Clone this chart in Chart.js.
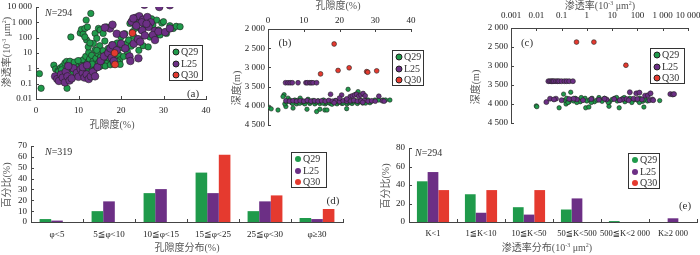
<!DOCTYPE html>
<html>
<head>
<meta charset="utf-8">
<script src="https://cdn.jsdelivr.net/npm/chart.js@4/dist/chart.umd.min.js"></script>
<style>
body { margin: 0; width: 700px; height: 255px; background: #fff; position: relative; overflow: hidden;
       font-family: "Liberation Serif", "Noto Sans CJK SC", serif; color: #333; }
canvas { position: absolute; }
.t { position: absolute; white-space: nowrap; font-size: 10px; line-height: 1; color: #555; transform: translate(-50%, -50%); }
.rot { transform: translate(-50%, -50%) rotate(-90deg); }
.n { position: absolute; white-space: nowrap; font-size: 10px; line-height: 1; color: #333; }
.pl { position: absolute; white-space: nowrap; font-size: 11px; line-height: 1; color: #333; transform: translate(-50%, -50%); }
sup { font-size: 6px; vertical-align: 4px; line-height: 0; }
.lg { position: absolute; border: 1px solid #333; background: #fff; font-size: 10px; line-height: 1; }
.lg span { position: absolute; white-space: nowrap; transform: translateY(-50%); }
.lg i { position: absolute; border-radius: 50%; transform: translate(-50%, -50%); box-sizing: border-box; }
</style>
</head>
<body>
<canvas id="ca" width="212" height="120" style="left:0;top:0"></canvas>
<canvas id="cb" width="197" height="131" style="left:222px;top:0"></canvas>
<canvas id="cc" width="235" height="130" style="left:465px;top:0"></canvas>
<canvas id="cd" width="350" height="120" style="left:0;top:135px"></canvas>
<canvas id="ce" width="325" height="120" style="left:375px;top:135px"></canvas>

<div class="t" style="left:112px;top:125px">孔隙度(%)</div>
<div class="t rot" style="left:7px;top:52px">渗透率(10<sup>-3</sup> μm<sup>2</sup>)</div>
<div class="n" style="left:45px;top:8px"><i>N</i>=294</div>
<div class="pl" style="left:193px;top:93px">(a)</div>

<div class="t" style="left:338px;top:6px">孔隙度(%)</div>
<div class="t rot" style="left:237px;top:88px">深度(m)</div>
<div class="pl" style="left:285px;top:42px">(b)</div>

<div class="t" style="left:600px;top:6px">渗透率(10<sup>-3</sup> μm<sup>2</sup>)</div>
<div class="t rot" style="left:476px;top:87px">深度(m)</div>
<div class="pl" style="left:527px;top:42px">(c)</div>

<div class="t" style="left:187px;top:248px">孔隙度分布(%)</div>
<div class="t rot" style="left:7px;top:185px">百分比(%)</div>
<div class="n" style="left:45px;top:147px"><i>N</i>=319</div>
<div class="pl" style="left:333px;top:200px">(d)</div>

<div class="t" style="left:547px;top:248px">渗透率分布(10<sup>-3</sup> μm<sup>2</sup>)</div>
<div class="t rot" style="left:386px;top:186px">百分比(%)</div>
<div class="n" style="left:415px;top:148px"><i>N</i>=294</div>
<div class="pl" style="left:685px;top:205px">(e)</div>

<script>
// ---- data ----
const wells = ['Q29', 'L25', 'Q30'];
const wellColors = ['#1f9a4b', '#6c2f85', '#e53a2f'];

// (a) porosity (%) vs permeability (10^-3 um2)
const q29PorPerm = [
  [0.8,0.45],[1.2,0.05],[7.3,0.05],[4.2,1.6],[4.6,0.9],[5.2,0.7],[5.8,1.1],[6.3,1.4],[6.8,2.2],[7.2,2.8],
  [7.6,1.8],[8.0,2.9],[7.9,1.2],[8.5,0.8],[8.8,1.6],[9.3,0.6],[9.6,1.0],[10.0,1.8],[10.2,3.0],[10.6,2.4],
  [10.8,0.5],[11.1,3.6],[11.4,1.5],[11.7,6],[11.9,0.9],[12.1,2.2],[12.4,11],[12.6,4],[12.8,1.3],[13.1,7],
  [13.4,2.8],[13.6,0.7],[13.9,16],[14.1,4.5],[14.3,1.1],[14.6,9],[14.8,2.5],[15.0,30],[15.2,5.5],[15.5,1.6],
  [15.8,14],[16.0,3.8],[16.2,60],[16.5,8],[16.8,2.2],[17.0,20],[17.3,4.5],[17.6,11],[17.9,35],[18.2,6],
  [18.5,2.4],[18.8,18],[19.1,45],[19.4,8],[19.7,3.5],[20.0,110],[20.3,22],[20.6,6],[20.9,180],[21.2,40],
  [21.5,12],[21.8,70],[22.1,850],[22.4,28],[22.7,240],[23.0,120],[23.3,400],[23.6,1700],[23.9,60],[24.2,15],
  [24.5,2000],[24.8,300],[25.2,30],[25.6,500],[26.0,1200],[26.4,25],[26.8,110],[27.2,1700],[27.5,650],[28.0,110],
  [28.4,1400],[28.8,320],[29.2,150],[29.6,900],[30.0,1100],[30.7,190],[31.5,600],[32.3,400],[33.0,550],[33.9,520],
  [10.4,200],[10.7,340],[11.1,170],[11.5,400],[11.8,1400],[12.1,500],[12.9,3800],[8.2,110],[11.9,70],[11.5,110],
  [12.3,25],[13.9,190],[14.3,90],[14.7,400],[15.1,320],[16.6,500],[15.8,190],[13.5,42],[12.7,45],[14.3,15],
  [9.6,0.5],[8.8,0.6],[10.4,0.35],[11.1,0.5],[5.3,0.6],[6.0,0.8],[9.0,2.5],[9.9,3.2],[12.0,1.2],[13.2,1.9],
  [15.0,1.3],[16.3,1.4],[17.5,1.7],[18.3,1.9],[19.2,2.7],[19.8,1.8]
];
const l25PorPerm = [
  [4.5,0.3],[5.0,0.2],[5.4,0.15],[5.9,0.4],[6.3,0.25],[6.8,0.12],[7.0,0.6],[7.4,0.3],[7.9,0.16],[8.4,0.22],
  [8.8,1.0],[7.6,1.4],[9.6,0.5],[10.0,0.28],[10.5,0.9],[11.0,0.5],[11.4,0.25],[11.9,0.4],[12.4,0.2],[12.9,0.3],
  [13.4,0.6],[13.9,0.3],[11.0,1.2],[12.0,1.6],[14.5,1.2],[15.2,3],[16.0,6],[17.0,10],[17.8,5],[18.3,3],
  [17.5,20],[18.0,32],[19.0,15],[20.0,40],[19.0,180],[17.4,400],[16.2,450],[18.0,700],[21.0,20],[22.0,6],
  [23.0,40],[24.0,80],[20.6,160],[24.1,4.5],[24.5,55],[25.5,14000],[29.0,10000],[31.5,13000],[23.5,2000],[24.3,2500],
  [25.2,1500],[26.2,2200],[27.0,1000],[26.5,500],[28.0,280],[25.0,300],[24.9,1000],[27.5,150],[28.8,250],[30.4,230],
  [31.5,400],[22.5,1100],[23.6,600],[26.0,800],[28.0,70],[25.6,140],[22.9,1800],[22.2,3]
];
const q30PorPerm = [[18.5,10],[18.6,1.8],[22.7,200]];

// (b) porosity (%) vs depth (m)
const q29PorDepth = [
  [0.3,4040],[0.9,4080],[2.8,4110],[4.5,3710],[5.0,4020],[7.0,4060],[10.9,4090],[13.6,4150],[14.5,4090],[15.9,4110],
  [16.5,4110],[22.0,4075],[22.4,3570],[25.2,3630],[24.5,3700],[4.2,3760],
  [4.7,3950],[5.6,3800],[6.1,3850],[6.6,3920],[7.1,3880],[7.5,3850],[8.0,3950],[8.4,3900],[8.9,3935],[9.3,3860],
  [9.8,3920],[10.3,3950],[10.8,3880],[11.2,3830],[11.7,3940],[12.2,3900],[12.6,3860],[13.1,3950],[13.6,3910],[14.0,3870],
  [14.5,3940],[15.0,3900],[15.5,3850],[16.0,3950],[16.4,3920],[16.9,3880],[17.4,3940],[17.9,3960],[18.3,3900],[18.8,3860],
  [19.3,3950],[19.8,3910],[20.2,3880],[20.7,3940],[21.2,3900],[21.6,3860],[22.1,3950],[22.6,3920],[23.1,3880],[23.5,3940],
  [24.0,3900],[24.5,3870],[25.0,3940],[25.5,3900],[26.0,3860],[26.5,3930],[27.0,3890],[27.5,3850],[28.0,3850],[28.5,3920],
  [29.0,3880],[29.9,3850],[31.0,3850],[32.2,3850],[32.9,3850],[34.1,3850],[5.2,3900],[6.9,3940],[9.0,3800],[10.0,3890],
  [11.5,3900],[13.0,3880],[15.3,3930],[17.0,3900],[19.0,3880],[21.0,3930],[23.0,3900],[25.3,3880],[27.3,3930],[8.2,3860]
];
const l25PorDepth = [
  [4.9,3400],[5.6,3400],[6.2,3400],[6.8,3400],[8.4,3400],[10.6,3400],[11.0,3400],[11.7,3400],[12.1,3400],[12.6,3400],[13.6,3400],
  [5.0,3870],[6.0,3880],[7.0,3870],[8.0,3880],[9.0,3870],[10.0,3880],[11.0,3860],[12.0,3880],[13.0,3870],[14.0,3880],
  [15.0,3870],[16.0,3880],[17.0,3860],[18.0,3880],[19.0,3870],[20.0,3890],[21.0,3870],[22.0,3880],[23.0,3870],[24.0,3860],
  [25.0,3880],[26.0,3870],[27.0,3860],[28.0,3880],[29.0,3870],[30.0,3880],[32.0,3870],[32.5,3880],
  [17.5,3700],[20.6,3720],[23.0,3760],[23.6,3740],[24.2,3720],[24.8,3700],[25.4,3750],[26.0,3720],[26.6,3680],[27.2,3740],
  [31.0,3750],[20.0,3800],[22.0,3820],[18.5,3920],[26.5,3910]
];
const q30PorDepth = [[18.5,2390],[14.7,3170],[19.6,3080],[22.7,3010],[27.6,3110],[27.9,3125],[30.4,3090]];

// (c) permeability (10^-3 um2) vs depth (m)
const q29PermDepth = [
  [0.01,4050],[0.0105,4070],[0.08,4100],[0.12,3740],[0.23,3690],[0.15,4000],[0.9,4100],[1.2,4080],[7.5,4060],[19,4100],
  [180,4080],[760,3910],
  [0.13,3900],[0.16,3850],[0.2,3940],[0.25,3880],[0.3,3920],[0.35,3850],[0.45,3900],[0.55,3940],[0.7,3880],[0.85,3850],
  [1.0,3920],[1.3,3890],[1.6,3850],[2.0,3940],[2.5,3900],[3.2,3870],[4.0,3930],[5.0,3850],[6.3,3900],[8.0,3940],
  [10,3880],[12.5,3850],[16,3920],[20,3900],[25,3860],[32,3940],[40,3890],[50,3850],[63,3920],[80,3880],
  [100,3900],[125,3850],[160,3930],[200,3890],[250,3920],[0.18,3960],[0.4,3960],[0.6,3830],[1.5,3960],[3,3830],
  [7,3960],[15,3830],[30,3830],[60,3960],[120,3960]
];
const l25PermDepth = [
  [0.03,3400],[0.035,3400],[0.04,3400],[0.045,3400],[0.05,3400],[0.06,3400],[0.07,3400],[0.08,3400],[0.1,3400],[0.13,3400],
  [0.16,3400],[0.2,3400],[0.28,3400],
  [0.025,3950],[0.035,3860],[0.06,3860],[0.1,3900],[0.2,3870],[0.4,3880],[0.7,3900],[1.5,3870],[3,3890],[6,3880],
  [12,3870],[25,3880],[37,3870],[50,3690],[70,3860],[90,3720],[120,3700],[150,3880],[200,3780],[260,3770],
  [300,3900],[330,3720],[390,3880],[420,3900],[2000,3740],[2500,3750],[2800,3740],[0.05,3880],[0.3,3860],[5,3860],
  [20,3900],[45,3900],[100,3870]
];
const q30PermDepth = [[0.39,2370],[1.9,2370],[35,2980]];

// (d) porosity classes, percent of samples
const porClasses = ['φ<5', '5≦φ<10', '10≦φ<15', '15≦φ<25', '25≦φ<30', 'φ≥30'];
const q29PorPct = [2.7, 10, 26.6, 45.5, 10, 3.7];
const l25PorPct = [1.3, 19, 30.3, 26.6, 19, 2.7];
const q30PorPct = [0, 0, 0, 62, 24.5, 12];

// (e) permeability classes, percent of samples
const permClasses = ['K<1', '1≦K<10', '10≦K<50', '50≦K<500', '500≦K<2 000', 'K≥2 000'];
const q29PermPct = [44, 30, 16, 13.5, 1, 0];
const l25PermPct = [54, 10, 8, 25.5, 0, 4];
const q30PermPct = [34.5, 34.5, 34.5, 0, 0, 0];

// tick values
const porTicks = [0, 10, 20, 30, 40];
const permTicksA = [0.01, 0.1, 1, 10, 100, 1000, 10000];
const permTicksC = [0.001, 0.01, 0.1, 1, 10, 100, 1000, 10000];
const depthTicks = [2000, 2500, 3000, 3500, 4000, 4500];
const pctTicksD = [0, 10, 20, 30, 40, 50, 60, 70];
const pctTicksE = [0, 20, 40, 60, 80];

// ---- helpers ----
const tickFamily = '"Liberation Serif", "DejaVu Serif", "DejaVu Sans", "Noto Sans CJK SC", serif';
Chart.defaults.font.family = tickFamily;
Chart.defaults.font.size = 9;
Chart.defaults.color = '#222';

function fmt(v) {
    if (v >= 1000) return String(v).replace(/(\d)(?=(\d{3})+$)/g, '$1 ');
    return String(v);
}

// fixes an axis to a given thickness so the plot areas land where they do in the figure
function fixSize(size) {
    return s => {
        if (s.isHorizontal()) s.height = size; else s.width = size;
        s.paddingLeft = s.paddingRight = s.paddingTop = s.paddingBottom = 0;
    };
}

function axis(opts) {
    const a = {
        type: opts.type || 'linear',
        position: opts.position,
        reverse: !!opts.reverse,
        grid: { display: false, drawTicks: false },
        border: { display: true, color: '#444', width: 1 },
        ticks: { padding: opts.pad, autoSkip: false, maxRotation: 0, color: '#222',
                 font: { family: tickFamily, size: opts.font || 9 },
                 callback: opts.cb || (v => fmt(v)) },
        afterFit: fixSize(opts.size)
    };
    if (opts.min !== undefined) { a.min = opts.min; a.max = opts.max; }
    if (opts.values) a.afterBuildTicks = s => { s.ticks = opts.values.map(v => ({ value: v })); };
    return a;
}

// short tick marks pointing into the plot
const inTicks = {
    id: 'inTicks',
    afterDraw(chart) {
        const ctx = chart.ctx, area = chart.chartArea;
        ctx.save();
        ctx.strokeStyle = '#444';
        ctx.lineWidth = 1;
        Object.values(chart.scales).forEach(s => {
            let px = [];
            if (s.type === 'category') {
                for (let i = 1; i <= s.ticks.length; i++) px.push(s.getPixelForValue(i - 0.5));
            } else {
                px = s.ticks.map(t => s.getPixelForValue(t.value));
            }
            px.forEach(p => {
                p = Math.round(p) + 0.5;
                ctx.beginPath();
                if (s.isHorizontal()) {
                    const y0 = s.position === 'top' ? area.top : area.bottom;
                    ctx.moveTo(p, y0);
                    ctx.lineTo(p, s.position === 'top' ? y0 + 3 : y0 - 3);
                } else {
                    ctx.moveTo(area.left, p);
                    ctx.lineTo(area.left + 3, p);
                }
                ctx.stroke();
            });
        });
        ctx.restore();
    }
};

function scatterSet(i, pts, r) {
    return {
        label: wells[i],
        data: pts.map(p => ({ x: p[0], y: p[1] })),
        backgroundColor: wellColors[i],
        borderColor: '#222',
        borderWidth: 0.6,
        pointRadius: r,
        order: 3 - i
    };
}

function scatterChart(id, sets, xAxis, yAxis, padding) {
    new Chart(document.getElementById(id), {
        type: 'scatter',
        data: { datasets: sets },
        options: {
            responsive: false,
            animation: false,
            layout: { padding: padding },
            plugins: { legend: { display: false }, tooltip: { enabled: false } },
            scales: { x: xAxis, y: yAxis }
        },
        plugins: [inTicks]
    });
}

function barChart(id, labels, series, yAxis, padding, labelFont) {
    new Chart(document.getElementById(id), {
        type: 'bar',
        data: {
            labels: labels,
            datasets: series.map((d, i) => ({
                label: wells[i],
                data: d,
                backgroundColor: wellColors[i],
                borderWidth: 0,
                barPercentage: 1,
                categoryPercentage: 0.67
            }))
        },
        options: {
            responsive: false,
            animation: false,
            layout: { padding: padding },
            plugins: { legend: { display: false }, tooltip: { enabled: false } },
            scales: {
                x: Object.assign(axis({ type: 'category', position: 'bottom', pad: 7, size: 33, font: labelFont,
                                        cb: function (v) { return this.getLabelForValue(v); } }), { offset: true }),
                y: yAxis
            }
        },
        plugins: [inTicks]
    });
}

function legend(x, y, w, bordered) {
    const box = document.createElement('div');
    box.className = 'lg';
    Object.assign(box.style, { left: x + 'px', top: y + 'px', width: w + 'px', height: '34px' });
    [6, 17.5, 29].forEach((ry, i) => {
        const dot = document.createElement('i');
        const d = bordered ? 7 : 6;
        Object.assign(dot.style, { left: '6px', top: ry + 'px', width: d + 'px', height: d + 'px', background: wellColors[i],
            border: bordered ? '0.8px solid #222' : 'none' });
        const txt = document.createElement('span');
        txt.textContent = wells[i];
        Object.assign(txt.style, { left: '11px', top: ry + 'px' });
        box.appendChild(dot);
        box.appendChild(txt);
    });
    document.body.appendChild(box);
}

// ---- charts ----
// (a)
scatterChart('ca',
    [scatterSet(0, q29PorPerm, 3.2), scatterSet(1, l25PorPerm, 3.8), scatterSet(2, q30PorPerm, 3.5)],
    axis({ position: 'bottom', min: 0, max: 40, values: porTicks, pad: 6, size: 21 }),
    axis({ type: 'logarithmic', position: 'left', min: 0.01, max: 10000, values: permTicksA, pad: 4, size: 36 }),
    { left: 0, top: 7, right: 6, bottom: 0 });

// (b)
scatterChart('cb',
    [scatterSet(0, q29PorDepth, 2.2), scatterSet(1, l25PorDepth, 2.4), scatterSet(2, q30PorDepth, 2.4)],
    axis({ position: 'top', min: 0, max: 40, values: porTicks, pad: 3, size: 15 }),
    axis({ position: 'left', reverse: true, min: 2000, max: 4500, values: depthTicks, pad: 3, size: 46 }),
    { left: 0, top: 14, right: 8, bottom: 6 });

// (c)
scatterChart('cc',
    [scatterSet(0, q29PermDepth, 2.2), scatterSet(1, l25PermDepth, 2.5), scatterSet(2, q30PermDepth, 2.4)],
    axis({ type: 'logarithmic', position: 'top', min: 0.001, max: 10000, values: permTicksC, pad: 7, size: 20 }),
    axis({ position: 'left', reverse: true, min: 2000, max: 4500, values: depthTicks, pad: 3, size: 46 }),
    { left: 0, top: 8, right: 12, bottom: 7 });

// (d)
barChart('cd', porClasses, [q29PorPct, l25PorPct, q30PorPct],
    axis({ position: 'left', min: 0, max: 70, values: pctTicksD, pad: 4, size: 31 }),
    { left: 0, top: 11, right: 7, bottom: 0 }, 9);

// (e)
barChart('ce', permClasses, [q29PermPct, l25PermPct, q30PermPct],
    axis({ position: 'left', min: 0, max: 80, values: pctTicksE, pad: 4, size: 34 }),
    { left: 0, top: 13, right: 3, bottom: 0 }, 8.5);

legend(169, 45, 32, true);
legend(392, 50, 30, true);
legend(650, 48, 33, true);
legend(291, 152, 34, false);
legend(628, 153, 30, false);
</script>
</body>
</html>
